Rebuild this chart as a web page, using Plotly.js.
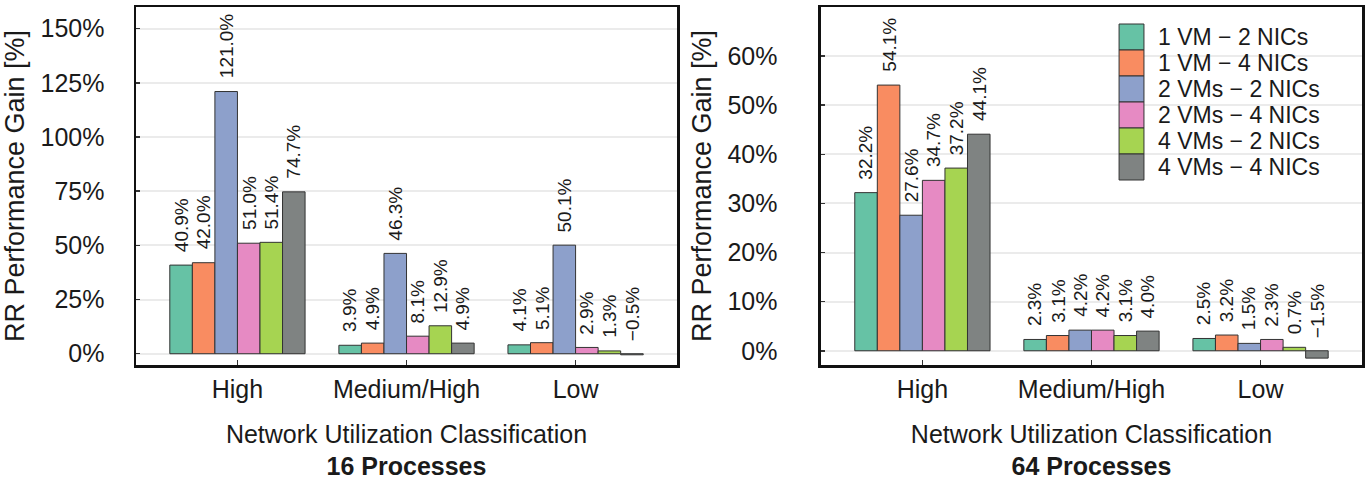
<!DOCTYPE html>
<html>
<head>
<meta charset="utf-8">
<script src="https://cdn.plot.ly/plotly-3.0.1.min.js"></script>
<style>html,body{margin:0;padding:0;background:#fff;}#chart{width:1367px;height:485px;}</style>
</head>
<body>
<div id="chart"></div>
<script>
// ---------- data ----------
const categories = ['High', 'Medium/High', 'Low'];
const seriesNames = ['1 VM \u2212 2 NICs', '1 VM \u2212 4 NICs', '2 VMs \u2212 2 NICs', '2 VMs \u2212 4 NICs', '4 VMs \u2212 2 NICs', '4 VMs \u2212 4 NICs'];

// 16 processes
const gain16_1VM_2NIC = [40.9, 3.9, 4.1];
const gain16_1VM_4NIC = [42.0, 4.9, 5.1];
const gain16_2VM_2NIC = [121.0, 46.3, 50.1];
const gain16_2VM_4NIC = [51.0, 8.1, 2.9];
const gain16_4VM_2NIC = [51.4, 12.9, 1.3];
const gain16_4VM_4NIC = [74.7, 4.9, -0.5];

// 64 processes
const gain64_1VM_2NIC = [32.2, 2.3, 2.5];
const gain64_1VM_4NIC = [54.1, 3.1, 3.2];
const gain64_2VM_2NIC = [27.6, 4.2, 1.5];
const gain64_2VM_4NIC = [34.7, 4.2, 2.3];
const gain64_4VM_2NIC = [37.2, 3.1, 0.7];
const gain64_4VM_4NIC = [44.1, 4.0, -1.5];

const yTicks16 = [0, 25, 50, 75, 100, 125, 150];
const yTicks64 = [0, 10, 20, 30, 40, 50, 60];
const panelTitles = ['16 Processes', '64 Processes'];
const xTitle = 'Network Utilization Classification';
const yTitle = 'RR Performance Gain [%]';

// ---------- styling ----------
const colors = ['#66c2a5', '#f98c61', '#8da0cb', '#e68ac3', '#a6d451', '#7f8382'];
const FONT = '"Liberation Sans", Arial, Helvetica, sans-serif';
const TXT = '#1a1a1a';

const panels = [
  {series: [gain16_1VM_2NIC, gain16_1VM_4NIC, gain16_2VM_2NIC, gain16_2VM_4NIC, gain16_4VM_2NIC, gain16_4VM_4NIC], xa: 'x', ya: 'y'},
  {series: [gain64_1VM_2NIC, gain64_1VM_4NIC, gain64_2VM_2NIC, gain64_2VM_4NIC, gain64_4VM_2NIC, gain64_4VM_4NIC], xa: 'x2', ya: 'y2'}
];

const BARGAP = 0.2;
const nS = seriesNames.length;
function fmt(v) { return (v < 0 ? '\u2212' : '') + Math.abs(v).toFixed(1) + '%'; }

const traces = [];
const annotations = [];
panels.forEach((p, pi) => {
  p.series.forEach((vals, si) => {
    traces.push({
      type: 'bar', x: categories, y: vals, name: seriesNames[si],
      xaxis: p.xa, yaxis: p.ya, showlegend: false,
      marker: {color: colors[si], line: {color: '#333', width: 1}},
      hoverinfo: 'skip'
    });
    vals.forEach((v, ci) => {
      const off = -(1 - BARGAP) / 2 + (si + 0.5) * (1 - BARGAP) / nS;
      annotations.push({
        xref: p.xa, yref: p.ya, x: ci + off, y: Math.max(v, 0),
        text: fmt(v), textangle: -90, showarrow: false,
        xanchor: 'center', yanchor: 'bottom', yshift: 11,
        font: {family: FONT, size: 19, color: TXT}
      });
    });
  });
});

// custom legend inside right panel
const legTop = 0.9525, legRow = 26 / 358;
seriesNames.forEach((name, i) => {
  annotations.push({
    xref: 'x2 domain', yref: 'y2 domain', x: 0.622, y: legTop - (i + 0.5) * legRow,
    text: name, showarrow: false, xanchor: 'left', yanchor: 'middle', borderpad: 0,
    font: {family: FONT, size: 23, color: TXT}
  });
});
const shapes = seriesNames.map((name, i) => ({
  type: 'rect', xref: 'x2 domain', yref: 'y2 domain',
  x0: 0.551, x1: 0.597, y0: legTop - (i + 1) * legRow, y1: legTop - i * legRow,
  fillcolor: colors[i], line: {color: '#333', width: 1}
}));

function xAxis(domain, title) {
  return {
    domain: domain, type: 'category', range: [-0.6, 2.6],
    ticks: 'inside', ticklen: 5, tickwidth: 1.5, tickcolor: '#333',
    showline: true, mirror: true, linewidth: 2.5, linecolor: '#111',
    showgrid: false, zeroline: false, fixedrange: true,
    tickfont: {family: FONT, size: 25, color: TXT}, ticklabelstandoff: 0,
    title: {text: xTitle + '<br><b>' + title + '</b>', font: {family: FONT, size: 25, color: TXT}, standoff: 24}
  };
}
function yAxis(range, tickvals, anchor, standoff) {
  return {
    domain: [0, 1], range: range, anchor: anchor,
    tickmode: 'array', tickvals: tickvals, ticktext: tickvals.map(v => v + '%'),
    ticks: 'inside', ticklen: 4, tickwidth: 1.5, tickcolor: '#333',
    showline: true, mirror: true, linewidth: 2.5, linecolor: '#111',
    showgrid: true, gridcolor: '#ebebeb', gridwidth: 2, zeroline: false, fixedrange: true,
    tickfont: {family: FONT, size: 25, color: TXT}, ticklabelstandoff: standoff,
    title: {text: yTitle, font: {family: FONT, size: 27, color: TXT}, standoff: 8}
  };
}

const layout = {
  width: 1367, height: 485,
  margin: {l: 136, r: 5, t: 7, b: 120},
  paper_bgcolor: '#fff', plot_bgcolor: '#fff',
  barmode: 'group', bargap: BARGAP, bargroupgap: 0,
  showlegend: false,
  font: {family: FONT, color: TXT},
  xaxis: Object.assign(xAxis([0, 0.4413], panelTitles[0]), {anchor: 'y'}),
  yaxis: yAxis([-5.2, 160], yTicks16, 'x', 24),
  xaxis2: Object.assign(xAxis([0.5587, 1], panelTitles[1]), {anchor: 'y2'}),
  yaxis2: yAxis([-2.9, 70], yTicks64, 'x2', 36),
  annotations: annotations,
  shapes: shapes
};

Plotly.newPlot('chart', traces, layout, {displayModeBar: false, staticPlot: true});
</script>
</body>
</html>
